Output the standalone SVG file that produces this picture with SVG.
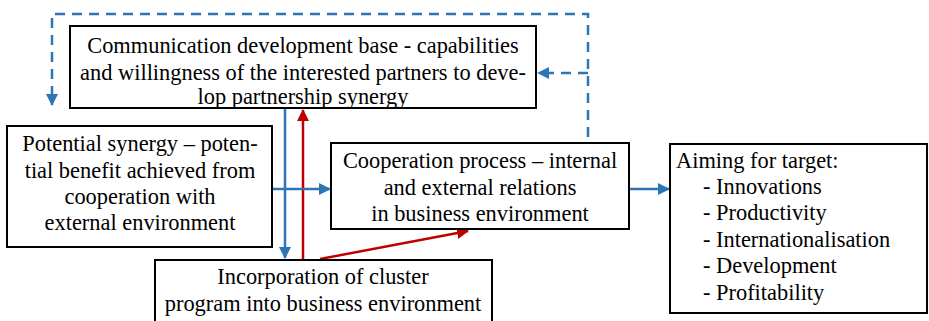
<svg xmlns="http://www.w3.org/2000/svg" width="929" height="321" viewBox="0 0 929 321">
<defs>
<marker id="ab" markerWidth="12" markerHeight="12" refX="11" refY="6" orient="auto" markerUnits="userSpaceOnUse"><path d="M0,0 L12,6 L0,12 Z" fill="#2E75B6"/></marker>
<marker id="ar" markerWidth="12" markerHeight="12" refX="11" refY="6" orient="auto" markerUnits="userSpaceOnUse"><path d="M0,0 L12,6 L0,12 Z" fill="#C00000"/></marker>
<style>
.box{fill:#fff;stroke:#000;stroke-width:2}
.t{font-family:'Liberation Serif','DejaVu Serif',serif;font-size:22.4px;fill:#000}
.c{text-anchor:middle}
.b{fill:none;stroke:#2E75B6;stroke-width:2.5}
.d{stroke-dasharray:10,7}
.r{fill:none;stroke:#C00000;stroke-width:2.5}
</style>
</defs>
<rect width="929" height="321" fill="#fff"/>
<g id="connectors">
<path class="b d" d="M588,137 V14 H52 V105" marker-end="url(#ab)"/>
<path class="b d" d="M588,73 H538" marker-end="url(#ab)"/>
<path class="b" d="M285,109 V258" marker-end="url(#ab)"/>
<path class="r" d="M303,259 V110" marker-end="url(#ar)"/>
<path class="b" d="M272,189 H330" marker-end="url(#ab)"/>
<path class="r" d="M320,259 L468,231" marker-end="url(#ar)"/>
<path class="b" d="M629,189 H669" marker-end="url(#ab)"/>
</g>
<g id="n1" class="t">
<rect class="box" x="70" y="26" width="466" height="82"/>
<text class="c" x="303" y="53">Communication development base - capabilities</text>
<text class="c" x="303" y="80">and willingness of the interested partners to deve-</text>
<text class="c" x="303" y="104">lop partnership synergy</text>
</g>
<g id="n2" class="t">
<rect class="box" x="7" y="126" width="265" height="121"/>
<text class="c" x="140" y="151">Potential synergy – poten-</text>
<text class="c" x="140" y="178">tial benefit achieved from</text>
<text class="c" x="140" y="204">cooperation with</text>
<text class="c" x="140" y="230">external environment</text>
</g>
<g id="n3" class="t">
<rect class="box" x="331" y="143" width="298" height="86"/>
<text class="c" x="480" y="168">Cooperation process – internal</text>
<text class="c" x="480" y="195">and external relations</text>
<text class="c" x="480" y="221">in business environment</text>
</g>
<g id="n4" class="t">
<rect class="box" x="155" y="260" width="337" height="64"/>
<text class="c" x="323" y="284">Incorporation of cluster</text>
<text class="c" x="323" y="311">program into business environment</text>
</g>
<g id="n5" class="t">
<rect class="box" x="670" y="144" width="257" height="169"/>
<text x="676" y="168">Aiming for target:</text>
<text x="703" y="194">- Innovations</text>
<text x="703" y="220">- Productivity</text>
<text x="703" y="247">- Internationalisation</text>
<text x="703" y="273">- Development</text>
<text x="703" y="300">- Profitability</text>
</g>
</svg>
